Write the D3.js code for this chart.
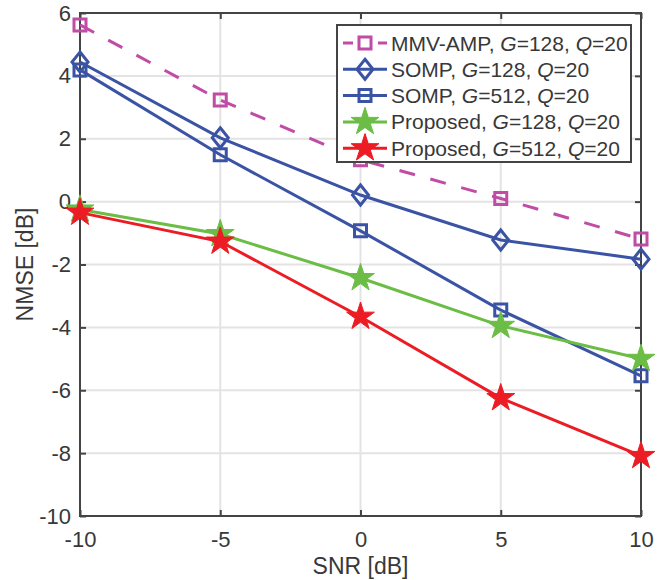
<!DOCTYPE html>
<html>
<head>
<meta charset="utf-8">
<script src="https://cdn.jsdelivr.net/npm/d3@7"></script>
<style>
  body { margin: 0; background: #fff; }
  text { font-family: "Liberation Sans", Arial, sans-serif; fill: #383838; }
</style>
</head>
<body>
<div id="chart"></div>
<script>
// data
var snr = [-10, -5, 0, 5, 10];
var mmvAmp128 = [5.62, 3.23, 1.33, 0.1, -1.19];
var somp128 = [4.44, 2.03, 0.21, -1.22, -1.83];
var somp512 = [4.19, 1.49, -0.93, -3.45, -5.54];
var prop128 = [-0.25, -1.03, -2.43, -3.95, -5.0];
var prop512 = [-0.35, -1.27, -3.66, -6.25, -8.09];
var xTicks = [-10, -5, 0, 5, 10];
var yTicks = [-10, -8, -6, -4, -2, 0, 2, 4, 6];

var series = [
    {name: "MMV-AMP", g: "128", values: mmvAmp128, color: "#c04ca6", marker: "square", dash: "16,16"},
    {name: "SOMP", g: "128", values: somp128, color: "#3a53a4", marker: "diamond", dash: null},
    {name: "SOMP", g: "512", values: somp512, color: "#3a53a4", marker: "square", dash: null},
    {name: "Proposed", g: "128", values: prop128, color: "#6bbd45", marker: "star", dash: null},
    {name: "Proposed", g: "512", values: prop512, color: "#ec1c24", marker: "star", dash: null}
];

var svgWidth = 657;
var svgHeight = 580;
var margin = {top: 13, right: 16, bottom: 64, left: 80};
var width = svgWidth - margin.left - margin.right;
var height = svgHeight - margin.top - margin.bottom;

var svg = d3.select("#chart")
    .append("svg")
    .attr("width", svgWidth)
    .attr("height", svgHeight);

var chartGroup = svg.append("g")
    .attr("transform", `translate(${margin.left}, ${margin.top})`);

var x = d3.scaleLinear().domain([-10, 10]).range([0, width]);
var y = d3.scaleLinear().domain([-10, 6]).range([height, 0]);

var fmt = d => String(d); // plain hyphen minus like the original

// grid
chartGroup.append("g").selectAll("line")
    .data(xTicks)
    .enter().append("line")
    .attr("x1", d => x(d)).attr("x2", d => x(d))
    .attr("y1", 0).attr("y2", height)
    .attr("stroke", "#e3e3e3").attr("stroke-width", 2);
chartGroup.append("g").selectAll("line")
    .data(yTicks)
    .enter().append("line")
    .attr("y1", d => y(d)).attr("y2", d => y(d))
    .attr("x1", 0).attr("x2", width)
    .attr("stroke", "#e3e3e3").attr("stroke-width", 2);

// axes (ticks pointing inward, box on)
function styleAxis(g) {
    g.select(".domain").remove();
    g.selectAll(".tick line").attr("stroke", "#444").attr("stroke-width", 2);
    g.selectAll(".tick text").style("font-size", "22px").attr("fill", "#383838");
}
chartGroup.append("g")
    .attr("transform", `translate(0, ${height})`)
    .call(d3.axisBottom(x).tickValues(xTicks).tickSize(-6).tickPadding(15).tickFormat(fmt))
    .call(styleAxis);
chartGroup.append("g")
    .call(d3.axisLeft(y).tickValues(yTicks).tickSize(-6).tickPadding(9).tickFormat(fmt))
    .call(styleAxis);
chartGroup.append("g")
    .call(d3.axisTop(x).tickValues(xTicks).tickSize(-6).tickFormat(""))
    .call(styleAxis);
chartGroup.append("g")
    .attr("transform", `translate(${width}, 0)`)
    .call(d3.axisRight(y).tickValues(yTicks).tickSize(-6).tickFormat(""))
    .call(styleAxis);
chartGroup.append("rect")
    .attr("width", width).attr("height", height)
    .attr("fill", "none").attr("stroke", "#444").attr("stroke-width", 2);

// markers
function markerPath(type) {
    if (type === "square") return "M-6,-6H6V6H-6Z";
    if (type === "diamond") return "M0,-10L8,0L0,10L-8,0Z";
    return d3.symbol().type(d3.symbolStar).size(240)();
}
function drawMarker(g, s) {
    var star = s.marker === "star";
    g.append("path")
        .attr("d", markerPath(s.marker))
        .attr("fill", star ? s.color : "none")
        .attr("stroke", s.color)
        .attr("stroke-width", star ? 1 : 3)
        .attr("stroke-linejoin", "miter");
}

var line = d3.line()
    .x((d, i) => x(snr[i]))
    .y(d => y(d));

series.forEach(function(s) {
    chartGroup.append("path")
        .datum(s.values)
        .attr("d", line)
        .attr("fill", "none")
        .attr("stroke", s.color)
        .attr("stroke-width", 3)
        .attr("stroke-dasharray", s.dash);
    s.values.forEach(function(v, i) {
        var m = chartGroup.append("g")
            .attr("transform", `translate(${x(snr[i])}, ${y(v)})`);
        drawMarker(m, s);
    });
});

// axis labels
svg.append("text")
    .attr("x", margin.left + width / 2)
    .attr("y", 574)
    .attr("text-anchor", "middle")
    .style("font-size", "23px")
    .text("SNR [dB]");
svg.append("text")
    .attr("transform", `translate(33, ${margin.top + height / 2}) rotate(-90)`)
    .attr("text-anchor", "middle")
    .style("font-size", "23px")
    .text("NMSE [dB]");

// legend
var legend = svg.append("g");
legend.append("rect")
    .attr("x", 337).attr("y", 25)
    .attr("width", 294).attr("height", 137)
    .attr("fill", "#fff").attr("stroke", "#444").attr("stroke-width", 2);

series.forEach(function(s, i) {
    var cy = 43 + i * 26.3;
    var row = legend.append("g");
    row.append("line")
        .attr("x1", 343).attr("x2", 387)
        .attr("y1", cy).attr("y2", cy)
        .attr("stroke", s.color).attr("stroke-width", 3)
        .attr("stroke-dasharray", s.dash ? "10,34" : null);
    if (s.dash) {
        row.append("line")
            .attr("x1", 378).attr("x2", 387)
            .attr("y1", cy).attr("y2", cy)
            .attr("stroke", s.color).attr("stroke-width", 3);
    }
    var m = row.append("g").attr("transform", `translate(365, ${cy})`);
    drawMarker(m, s);
    var t = row.append("text")
        .attr("x", 391).attr("y", cy + 7.5)
        .style("font-size", "21px");
    t.append("tspan").text(s.name + ", ");
    t.append("tspan").style("font-style", "italic").text("G");
    t.append("tspan").text("=" + s.g + ", ");
    t.append("tspan").style("font-style", "italic").text("Q");
    t.append("tspan").text("=20");
});
</script>
</body>
</html>
